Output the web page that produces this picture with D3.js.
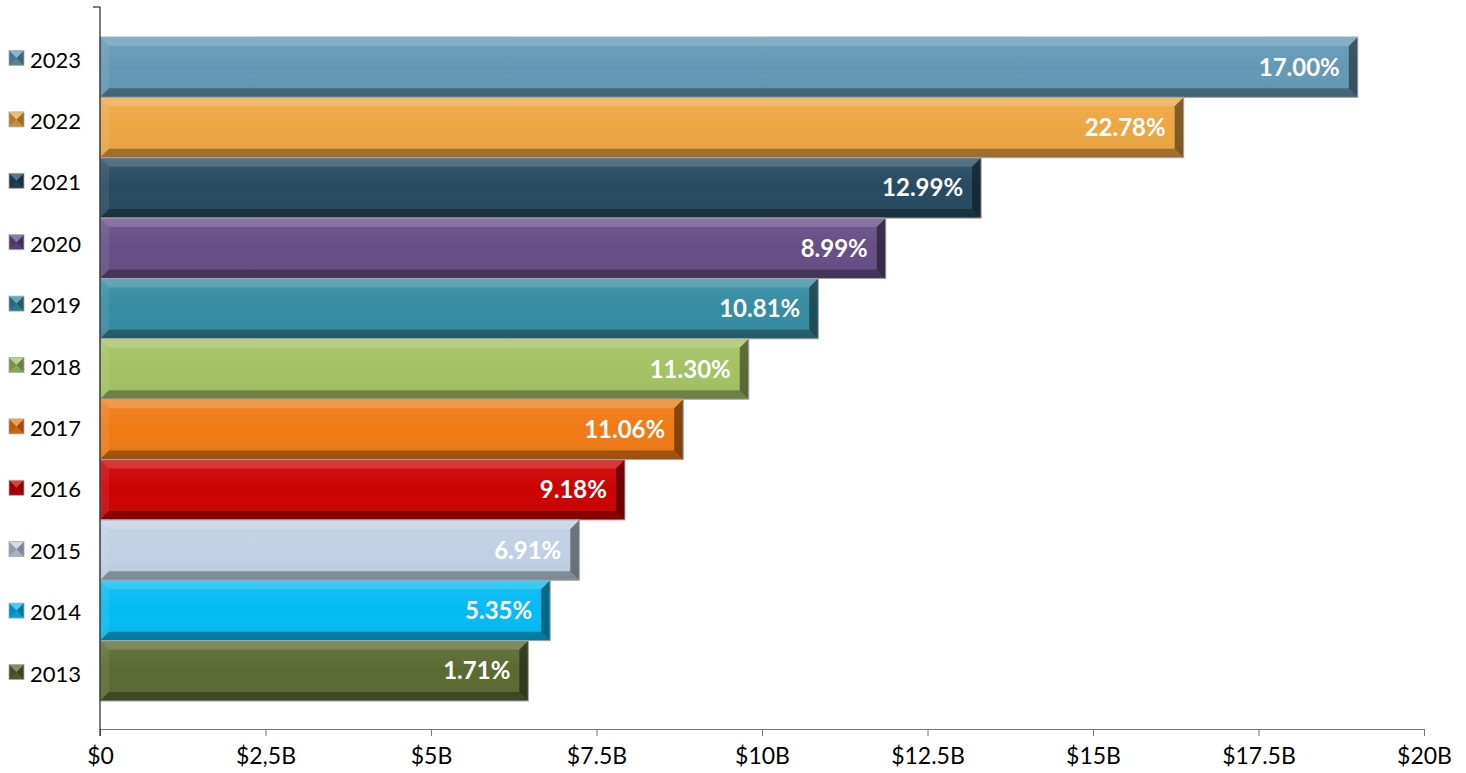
<!DOCTYPE html>
<html>
<head>
<meta charset="utf-8">
<script src="https://cdn.jsdelivr.net/npm/d3@7"></script>
<style>
  html, body { margin: 0; padding: 0; background: #fff; }
  svg { display: block; }
  text { font-family: Lato, "Open Sans", sans-serif; }
</style>
</head>
<body>
<svg id="chart" width="1466" height="773"></svg>
<script>
// Yearly totals (billions of dollars) and year-over-year growth labels
const years = ["2023", "2022", "2021", "2020", "2019", "2018", "2017", "2016", "2015", "2014", "2013"];
const totals = [19.0, 16.37, 13.31, 11.87, 10.85, 9.80, 8.81, 7.93, 7.24, 6.80, 6.47];
const growth = ["17.00%", "22.78%", "12.99%", "8.99%", "10.81%", "11.30%", "11.06%", "9.18%", "6.91%", "5.35%", "1.71%"];
const colors = ["#6399b6", "#eda643", "#274a61", "#664e86", "#358ca2", "#a3c263", "#f07a15", "#cc0202", "#c1d0e4", "#04bbf4", "#5b6a32"];
const tickValues = [0, 2.5, 5, 7.5, 10, 12.5, 15, 17.5, 20];
const tickLabels = ["$0", "$2,5B", "$5B", "$7.5B", "$10B", "$12.5B", "$15B", "$17.5B", "$20B"];

const svg = d3.select("#chart");
const plotLeft = 100, plotRight = 1424, plotTop = 7, plotBottom = 729;

const x = d3.scaleLinear().domain([0, 20]).range([plotLeft, plotRight]);
const y = d3.scaleBand().domain(years).range([37, 701]).paddingInner(0.0);
// legend entries are spaced on their own, slightly wider pitch
const yLegend = d3.scalePoint().domain(years).range([58, 672]);

const rows = years.map((yr, i) => ({ year: yr, value: totals[i], label: growth[i], color: colors[i] }));

// bevel geometry helper: returns four edge trapezoids for a box
function bevel(x0, y0, x1, y1, b) {
  const pts = a => a.map(p => p.join(",")).join(" ");
  return {
    top: pts([[x0, y0], [x1, y0], [x1 - b, y0 + b], [x0 + b, y0 + b]]),
    left: pts([[x0, y0], [x0 + b, y0 + b], [x0 + b, y1 - b], [x0, y1]]),
    bottom: pts([[x0, y1], [x0 + b, y1 - b], [x1 - b, y1 - b], [x1, y1]]),
    right: pts([[x1, y0], [x1, y1], [x1 - b, y1 - b], [x1 - b, y0 + b]])
  };
}

const defs = svg.append("defs");
const grad = defs.append("linearGradient").attr("id", "sheen").attr("x1", 0).attr("y1", 0).attr("x2", 0).attr("y2", 1);
grad.append("stop").attr("offset", "0%").attr("stop-color", "#fff").attr("stop-opacity", 0.08);
grad.append("stop").attr("offset", "50%").attr("stop-color", "#fff").attr("stop-opacity", 0.0);
grad.append("stop").attr("offset", "100%").attr("stop-color", "#000").attr("stop-opacity", 0.06);

// bars
const bars = svg.append("g").selectAll("g").data(rows).join("g");
bars.each(function (d) {
  const g = d3.select(this);
  const x0 = x(0), x1 = x(d.value), y0 = y(d.year), y1 = y(d.year) + y.bandwidth();
  const bv = bevel(x0, y0, x1, y1, 9);
  g.append("rect").attr("x", x0).attr("y", y0).attr("width", x1 - x0).attr("height", y1 - y0).attr("fill", d.color);
  g.append("rect").attr("x", x0).attr("y", y0).attr("width", x1 - x0).attr("height", y1 - y0).attr("fill", "url(#sheen)");
  g.append("polygon").attr("points", bv.top).attr("fill", "#fff").attr("fill-opacity", 0.16);
  g.append("polygon").attr("points", bv.left).attr("fill", "#fff").attr("fill-opacity", 0.08);
  g.append("polygon").attr("points", bv.bottom).attr("fill", "#000").attr("fill-opacity", 0.30);
  g.append("polygon").attr("points", bv.right).attr("fill", "#000").attr("fill-opacity", 0.45);
  g.append("rect").attr("x", x0).attr("y", y0).attr("width", x1 - x0).attr("height", y1 - y0)
    .attr("fill", "none").attr("stroke", "#a6a6a6").attr("stroke-width", 1);
  g.append("text")
    .attr("x", x1 - 18).attr("y", (y0 + y1) / 2 - 1)
    .attr("text-anchor", "end").attr("dominant-baseline", "central")
    .attr("fill", "#fff").attr("font-weight", "bold").attr("font-size", 24)
    .text(d.label);
});

// value axis
const xAxis = d3.axisBottom(x).tickValues(tickValues).tickFormat((d, i) => tickLabels[i]).tickSize(7).tickSizeOuter(0);
const ax = svg.append("g").attr("transform", `translate(0,${plotBottom})`).call(xAxis);
ax.select(".domain").attr("stroke", "#777");
ax.selectAll(".tick line").attr("stroke", "#777");
ax.selectAll(".tick text").attr("font-size", 23).attr("fill", "#000").attr("y", 19).attr("dy", "0.71em").attr("font-family", "Lato, sans-serif");

// category axis line with a small cap tick at top
svg.append("line").attr("x1", plotLeft).attr("x2", plotLeft).attr("y1", plotTop).attr("y2", plotBottom + 7).attr("stroke", "#222").attr("stroke-width", 1.2);
svg.append("line").attr("x1", plotLeft - 7).attr("x2", plotLeft).attr("y1", plotTop).attr("y2", plotTop).attr("stroke", "#222").attr("stroke-width", 1.2);

// legend down the left edge
const leg = svg.append("g").selectAll("g").data(rows).join("g")
  .attr("transform", d => `translate(9,${yLegend(d.year)})`);
leg.each(function (d) {
  const g = d3.select(this);
  const s = 15, h = s / 2;
  const bv = bevel(0, -h, s, h, h);
  g.append("rect").attr("x", 0).attr("y", -h).attr("width", s).attr("height", s).attr("fill", d.color);
  g.append("polygon").attr("points", bv.top).attr("fill", "#fff").attr("fill-opacity", 0.25);
  g.append("polygon").attr("points", bv.left).attr("fill", "#000").attr("fill-opacity", 0.25);
  g.append("polygon").attr("points", bv.bottom).attr("fill", "#000").attr("fill-opacity", 0.15);
  g.append("polygon").attr("points", bv.right).attr("fill", "#000").attr("fill-opacity", 0.35);
  g.append("rect").attr("x", 0).attr("y", -h).attr("width", s).attr("height", s).attr("fill", "none").attr("stroke", "#aaa").attr("stroke-width", 0.8);
  g.append("text").attr("x", 21).attr("y", 1).attr("dominant-baseline", "central")
    .attr("font-size", 22).attr("fill", "#000").text(d.year);
});
</script>
</body>
</html>
